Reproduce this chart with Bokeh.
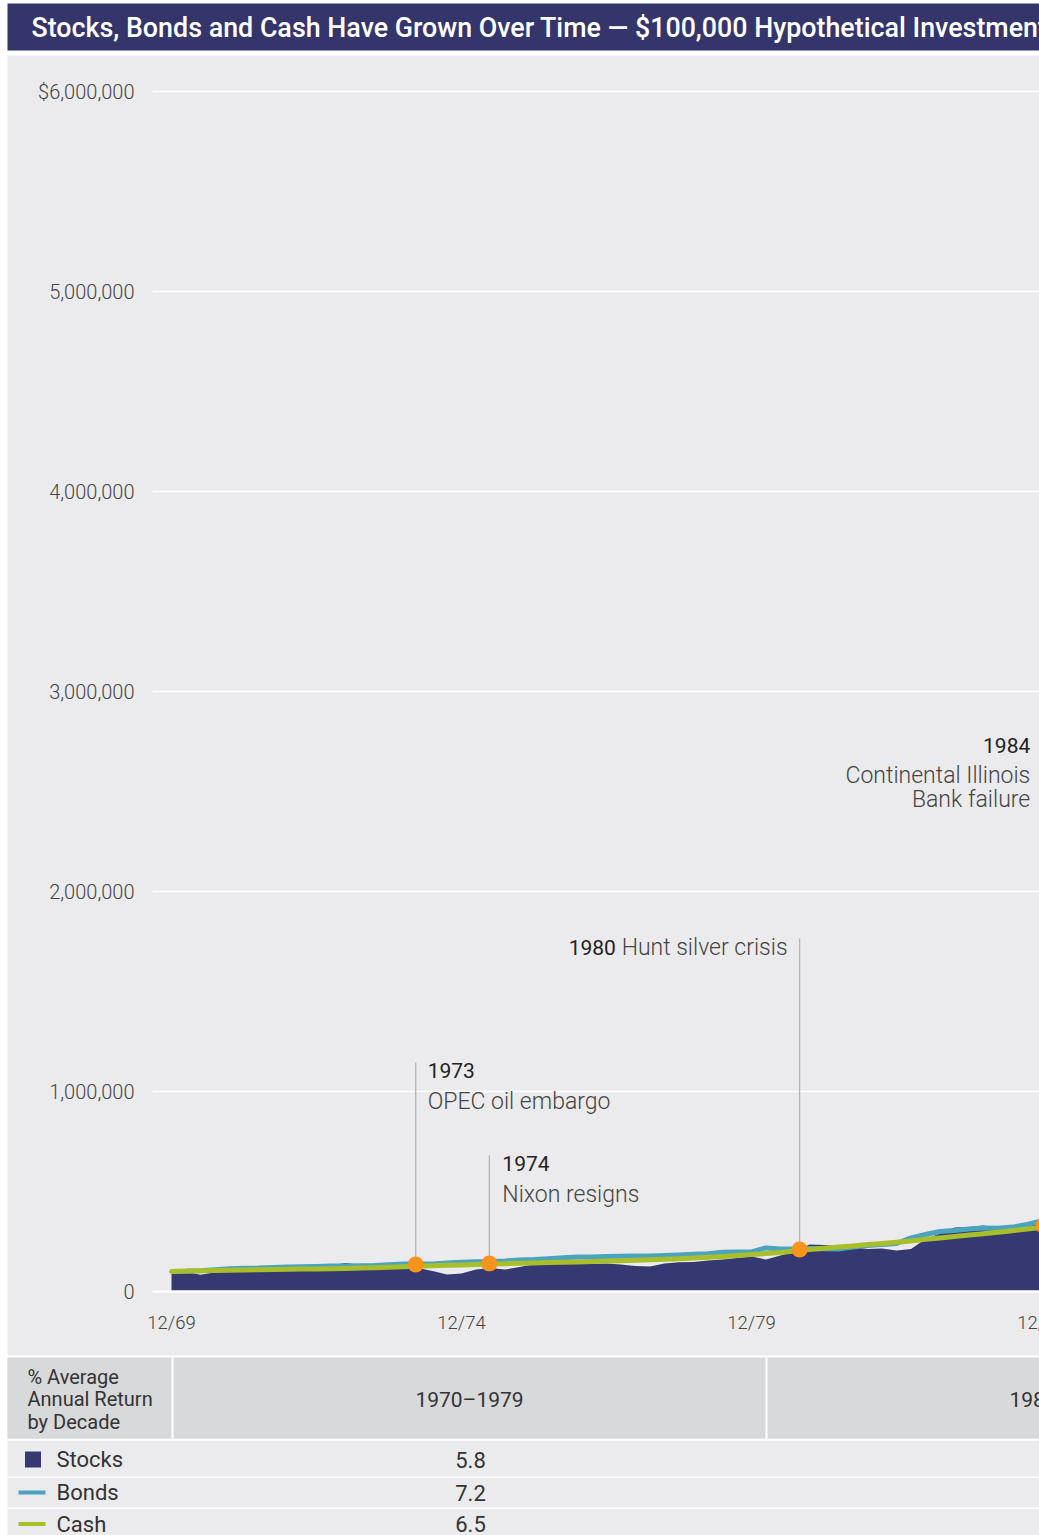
from bokeh.plotting import figure
from bokeh.models import Range1d, Label
from bokeh.embed import file_html
from bokeh.resources import INLINE
from bokeh.core.properties import value

# ---------------- data ----------------
TITLE = "Stocks, Bonds and Cash Have Grown Over Time \u2014 $100,000 Hypothetical Investment"

first_quarter = 1970.0  # 12/69, values sampled quarterly (thousands of dollars)
stocks_k = [100, 97, 84, 96, 104, 113, 112, 112, 119, 124, 125, 131, 142, 134, 126, 132,
            121, 118, 103, 85, 90, 110, 118, 110, 122, 136, 138, 138, 145, 138, 140, 135,
            128, 125, 140, 146, 148, 155, 160, 168, 175, 160, 180, 200, 235, 232, 228, 222,
            212, 215, 205, 212, 262, 290, 320, 322, 330, 318, 322, 335, 350]
bonds_k = [100, 101, 104, 109, 114, 116, 117, 120, 123, 124, 125, 127, 128, 129, 130, 134,
           137, 138, 138, 142, 146, 149, 150, 153, 158, 160, 164, 169, 173, 172, 175, 176,
           177, 177, 180, 183, 186, 189, 196, 197, 198, 218, 212, 212, 215, 214, 212, 222,
           230, 235, 240, 268, 285, 300, 305, 312, 318, 316, 322, 335, 352]
cash_k = [100, 102, 103.5, 105, 106.5, 107.5, 108.7, 110, 111, 112, 113, 114, 115.5, 117, 119, 121,
          123.5, 126, 128.5, 131, 133, 135, 137, 139, 141, 143, 145, 146.5, 148, 150, 152, 154,
          156, 158.5, 161, 164, 167, 171, 175, 180, 185, 190, 195, 202, 210, 216, 222, 228,
          235, 240, 246, 253, 261, 268, 275, 282, 289, 296, 304, 312, 320]
dates = [first_quarter + 0.25 * i for i in range(len(stocks_k))]

x_ticks = [1970, 1975, 1980, 1985]
x_tick_labels = ["12/69", "12/74", "12/79", "12/84"]
y_ticks = [0, 1000000, 2000000, 3000000, 4000000, 5000000, 6000000]
y_tick_labels = ["0", "1,000,000", "2,000,000", "3,000,000", "4,000,000", "5,000,000", "$6,000,000"]

event_years = ["1973", "1974", "1980", "1984"]
event_names = ["OPEC oil embargo", "Nixon resigns", "Hunt silver crisis", "Continental Illinois", "Bank failure"]
event_dates = [1974.21, 1975.48, 1980.83, 1985.03]
event_values = [135000, 140000, 210000, 330000]

decades = ["1970\u20131979", "1980\u20131989"]
assets = ["Stocks", "Bonds", "Cash"]
returns_1970s = [5.8, 7.2, 6.5]

# ---------------- style ----------------
NAVY_T = "#33356b"
NAVY = "#363971"
TEAL = "#4aa3bf"
GREEN = "#a9be2b"
ORANGE = "#f7941d"
PANEL = "#ebebed"
HEAD = "#d8d9db"
DARK = "#222222"
MID = "#444444"
TXT = "#333333"
LIGHT_FONT = "Roboto Light"
REG_FONT = "Roboto"

W, H = 1039, 1535
# data scales: 58 px per year (12/69 at x=171), 5,000 dollars per px (0 at y=1291)
px_per_year = 58.0
x0_year = 1970.0 - 171 / px_per_year
x1_year = x0_year + W / px_per_year
val_per_px = 5000.0
y_lo = -(H - 1291) * val_per_px
y_hi = 1291 * val_per_px

p = figure(width=W, height=H, x_range=Range1d(x0_year, x1_year), y_range=Range1d(y_lo, y_hi),
           output_backend="svg", toolbar_location=None, min_border=0,
           x_axis_location=None, y_axis_location=None,
           background_fill_color="white", border_fill_color="white", outline_line_color=None)
p.grid.visible = False
p.extra_x_ranges = {"px": Range1d(0, W)}
p.extra_y_ranges = {"py": Range1d(H, 0)}
PX = dict(x_range_name="px", y_range_name="py")

# ---- title bar ----
p.quad(left=[7], right=[W], top=[3], bottom=[50], fill_color=NAVY_T, line_color=None, **PX)
p.text(x=[31], y=[27.5], text=[TITLE], text_font=value("Roboto Medium"),
       text_font_size="26.8px", text_color="white", text_baseline="middle", text_align="left", **PX)

# ---- chart panel ----
p.quad(left=[7], right=[W], top=[55], bottom=[1355], fill_color=PANEL, line_color=None, **PX)
p.segment(x0=[152] * (len(y_ticks) - 1), x1=[W] * (len(y_ticks) - 1), y0=y_ticks[1:], y1=y_ticks[1:],
          line_color="white", line_width=1.5, x_range_name="px")
p.text(x=[134] * len(y_ticks), y=y_ticks, text=y_tick_labels, text_font=value(LIGHT_FONT),
       text_font_size="20px", text_color=MID, text_align="right", text_baseline="middle",
       x_range_name="px")
p.text(x=x_ticks, y=[1322] * len(x_ticks), text=x_tick_labels, text_font=value(LIGHT_FONT),
       text_font_size="18.5px", text_color=MID, text_align="center", text_baseline="middle",
       y_range_name="py")

stocks = [v * 1000 for v in stocks_k]
bonds = [v * 1000 for v in bonds_k]
cash = [v * 1000 for v in cash_k]

p.varea(x=dates, y1=[0] * len(dates), y2=stocks, fill_color=NAVY)
p.segment(x0=[152], x1=[W], y0=[0], y1=[0], line_color="white", line_width=2.5, x_range_name="px")

# annotation layout (label anchors, dollars)
line_tops = [1145000, 680000, 1765000, 2800000]
p.segment(x0=event_dates, y0=event_values, x1=event_dates, y1=line_tops,
          line_color="#b5b5b5", line_width=1.3)

p.line(dates, bonds, line_color=TEAL, line_width=5, line_join="round")
p.line(dates, cash, line_color=GREEN, line_width=5, line_cap="round", line_join="round")
p.scatter(event_dates, event_values, size=16, fill_color=ORANGE, line_color=None)


def lab(x, y, text, dx, font, size, color, align="left"):
    p.add_layout(Label(x=x, y=y, x_offset=dx, text=text, text_font=font, text_font_size=size,
                       text_color=color, text_align=align, text_baseline="middle"))


lab(event_dates[0], 1105000, event_years[0], 12, REG_FONT, "21px", DARK)
lab(event_dates[0], 950000, event_names[0], 12, LIGHT_FONT, "23px", MID)
lab(event_dates[1], 640000, event_years[1], 13, REG_FONT, "21px", DARK)
lab(event_dates[1], 485000, event_names[1], 13, LIGHT_FONT, "23px", MID)
lab(event_dates[2], 1720000, event_years[2], -231, REG_FONT, "21px", DARK)
lab(event_dates[2], 1720000, event_names[2], -178, LIGHT_FONT, "23px", MID)
lab(event_dates[3], 2730000, event_years[3], -13, REG_FONT, "21px", DARK, "right")
lab(event_dates[3], 2580000, event_names[3], -13, LIGHT_FONT, "23px", MID, "right")
lab(event_dates[3], 2460000, event_names[4], -13, LIGHT_FONT, "23px", MID, "right")

# ---- table ----
p.quad(left=[7], right=[W], top=[1357], bottom=[H], fill_color=PANEL, line_color=None, **PX)
p.quad(left=[7], right=[W], top=[1357], bottom=[1438.5], fill_color=HEAD, line_color=None, **PX)
p.segment(x0=[172, 766], y0=[1357, 1357], x1=[172, 766], y1=[1438.5, 1438.5],
          line_color="white", line_width=2, **PX)
p.segment(x0=[7, 7, 7], y0=[1439.2, 1476.8, 1507.8], x1=[W, W, W], y1=[1439.2, 1476.8, 1507.8],
          line_color="white", line_width=[2, 1.6, 1.6], **PX)

p.text(x=[27, 27, 27], y=[1376, 1398.5, 1421], text=["% Average", "Annual Return", "by Decade"],
       text_font=value(REG_FONT), text_font_size="20px", text_color=TXT,
       text_baseline="middle", text_align="left", **PX)
p.text(x=[469, 1063], y=[1399, 1399], text=decades, text_font=value(REG_FONT),
       text_font_size="21px", text_color=TXT, text_baseline="middle", text_align="center", **PX)
row_y = [1459, 1492, 1523.5]
p.text(x=[56] * 3, y=row_y, text=assets, text_font=value(REG_FONT), text_font_size="22px",
       text_color=TXT, text_baseline="middle", text_align="left", **PX)
p.text(x=[470] * 3, y=row_y, text=[f"{v:.1f}" for v in returns_1970s], text_font=value(REG_FONT),
       text_font_size="22px", text_color=TXT, text_baseline="middle", text_align="center", **PX)
p.scatter(x=[32.5], y=[row_y[0]], marker="square", size=16, fill_color=NAVY, line_color=None, **PX)
p.segment(x0=[18, 18], y0=row_y[1:], x1=[45, 45], y1=row_y[1:], line_color=[TEAL, GREEN],
          line_width=4, **PX)

open("out.html", "w").write(file_html(p, INLINE))
